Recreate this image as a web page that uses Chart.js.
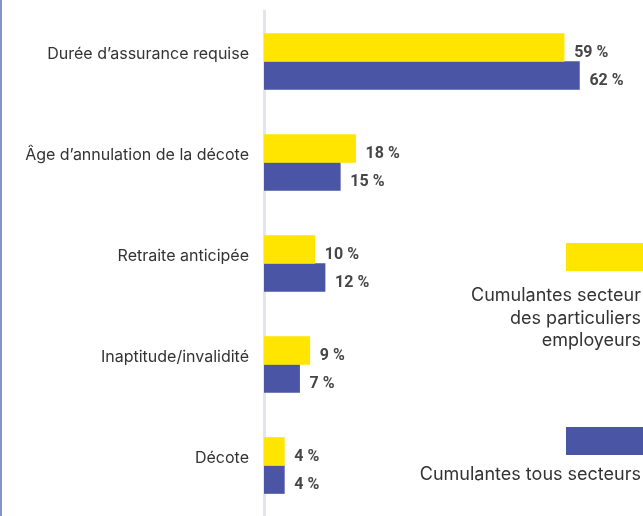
<!DOCTYPE html>
<html lang="fr">
<head>
<meta charset="utf-8">
<title>Cumulantes</title>
<script src="https://cdn.jsdelivr.net/npm/chart.js@4/dist/chart.umd.min.js"></script>
<style>
  html, body { margin: 0; padding: 0; background: #fff; overflow: hidden; }
  #wrap { position: relative; width: 643px; height: 516px; }
  #edge { position: absolute; left: 0; top: 0; width: 2px; height: 516px; background: #8193cc; }
  .swatch { position: absolute; left: 566px; width: 77px; height: 28px; }
  .leg { position: absolute; right: 2px; text-align: right; font-family: Inter, sans-serif;
         font-size: 18px; line-height: 22.5px; color: #333; }
</style>
</head>
<body>
<div id="wrap">
  <canvas id="chart" width="643" height="516"></canvas>
  <div id="edge"></div>
  <div class="swatch" id="sw0" style="top:243px"></div>
  <div class="leg" id="lg0" style="top:284px"></div>
  <div class="swatch" id="sw1" style="top:427px"></div>
  <div class="leg" id="lg1" style="top:463px"></div>
</div>
<script>
const categories = [
  "Durée d’assurance requise",
  "Âge d’annulation de la décote",
  "Retraite anticipée",
  "Inaptitude/invalidité",
  "Décote"
];
const particuliers = [59, 18, 10, 9, 4];
const tousSecteurs = [62, 15, 12, 7, 4];
const seriesNames = [
  ["Cumulantes secteur", "des particuliers", "employeurs"],
  ["Cumulantes tous secteurs"]
];
const colors = ["#ffe500", "#4a55a5"];

// legend on the right
seriesNames.forEach(function (lines, i) {
  document.getElementById("sw" + i).style.background = colors[i];
  document.getElementById("lg" + i).innerHTML = lines.join("<br>");
});

// value labels after each bar
const valueLabels = {
  id: "valueLabels",
  afterDatasetsDraw(chart) {
    const ctx = chart.ctx;
    ctx.save();
    ctx.font = "bold 16px Roboto, sans-serif";
    ctx.fillStyle = "#464646";
    ctx.textAlign = "left";
    ctx.textBaseline = "middle";
    chart.data.datasets.forEach(function (ds, i) {
      chart.getDatasetMeta(i).data.forEach(function (bar, j) {
        ctx.fillText(ds.data[j] + " %", bar.x + 10, bar.y + 5);
      });
    });
    ctx.restore();
  }
};

new Chart(document.getElementById("chart"), {
  type: "bar",
  data: {
    labels: categories,
    datasets: [
      { label: seriesNames[0].join(" "), data: particuliers, backgroundColor: colors[0] },
      { label: seriesNames[1].join(" "), data: tousSecteurs, backgroundColor: colors[1] }
    ]
  },
  options: {
    indexAxis: "y",
    responsive: false,
    animation: false,
    barThickness: 28,
    layout: { padding: { top: 11, right: 0, bottom: 0, left: 0 } },
    plugins: {
      legend: { display: false },
      tooltip: { enabled: false }
    },
    scales: {
      x: { display: false, min: 0, max: 74.5 },
      y: {
        grid: { display: false, drawTicks: false, tickLength: 0 },
        border: { display: true, color: "#e4e4f1", width: 3 },
        ticks: {
          padding: 15,
          labelOffset: -7,
          color: "#333",
          font: { family: "Inter, sans-serif", size: 16 }
        },
        afterFit(scale) {
          scale.width = 264;
          scale.paddingTop = 0;
          scale.paddingBottom = 0;
        }
      }
    }
  },
  plugins: [valueLabels]
});
</script>
</body>
</html>
